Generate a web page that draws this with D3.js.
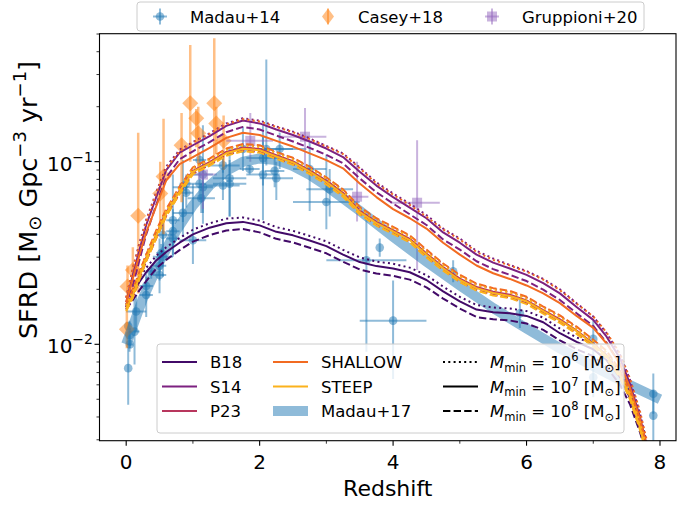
<!DOCTYPE html>
<html><head><meta charset="utf-8">
<script src="https://cdn.jsdelivr.net/npm/d3@7"></script>
<style>body{margin:0;background:#fff} text{font-family:"DejaVu Sans",sans-serif;fill:#000}</style>
</head><body><svg id="c" width="677" height="506"></svg>
<script>
// ---------------- data ----------------
const Z = [0.0,0.1,0.2,0.3,0.45,0.6,0.8,1.0,1.25,1.5,1.75,2.0,2.25,2.5,2.75,3.0,3.25,3.5,3.75,4.0,4.25,4.5,4.75,5.0,5.25,5.5,5.75,6.0,6.25,6.5,6.75,7.0,7.2,7.4,7.55,7.7,7.8];

const B18_6 = [0.0165,0.0198,0.0232,0.0262,0.0305,0.034,0.0382,0.0424,0.046,0.0487,0.0495,0.0475,0.0438,0.0418,0.0392,0.0366,0.0329,0.0299,0.0284,0.0276,0.0263,0.0239,0.0207,0.0182,0.0164,0.0159,0.0157,0.0152,0.014,0.0122,0.0109,0.01,0.0087,0.007,0.0054,0.0037,0.0027];
const B18_7 = [0.016,0.019,0.022,0.0248,0.0288,0.032,0.036,0.040,0.0435,0.046,0.0468,0.0448,0.0413,0.0395,0.037,0.0345,0.031,0.0282,0.0268,0.026,0.0248,0.0225,0.0195,0.0172,0.0155,0.015,0.0148,0.0143,0.0132,0.0115,0.0103,0.0094,0.0082,0.0066,0.0051,0.0035,0.0026];
const B18_8 = [0.0155,0.0175,0.0198,0.0222,0.026,0.029,0.0328,0.0365,0.0396,0.042,0.0428,0.041,0.0378,0.0361,0.0338,0.0315,0.0283,0.0257,0.0244,0.0237,0.0226,0.0205,0.0178,0.0157,0.0141,0.0137,0.0135,0.013,0.012,0.0105,0.0094,0.0086,0.0075,0.006,0.0047,0.0033,0.0025];

const S14_6 = [0.018,0.026,0.036,0.048,0.068,0.094,0.116,0.128,0.143,0.162,0.173,0.168,0.156,0.146,0.134,0.122,0.111,0.093,0.077,0.067,0.059,0.051,0.043,0.038,0.0325,0.0295,0.0272,0.0252,0.0228,0.020,0.0168,0.0142,0.0115,0.0088,0.0064,0.0042,0.0029];
const S14_7 = [0.017,0.024,0.033,0.045,0.064,0.090,0.112,0.123,0.138,0.157,0.168,0.162,0.150,0.140,0.129,0.118,0.106,0.088,0.074,0.064,0.056,0.049,0.041,0.036,0.031,0.028,0.026,0.024,0.0216,0.019,0.016,0.0136,0.011,0.0084,0.0061,0.0040,0.0028];
const S14_8 = [0.016,0.021,0.029,0.040,0.058,0.082,0.103,0.114,0.128,0.145,0.155,0.150,0.139,0.129,0.119,0.109,0.098,0.081,0.068,0.059,0.0515,0.045,0.0375,0.033,0.0285,0.0258,0.024,0.0222,0.0199,0.0175,0.0148,0.0126,0.0102,0.0078,0.0057,0.0038,0.0027];

const P23_6 = [0.0165,0.0195,0.0245,0.031,0.041,0.0545,0.072,0.092,0.103,0.117,0.124,0.121,0.112,0.104,0.093,0.081,0.070,0.0555,0.0485,0.0435,0.039,0.0325,0.0274,0.0237,0.0213,0.0201,0.0193,0.018,0.016,0.0142,0.0124,0.0105,0.009,0.0071,0.0054,0.0037,0.0027];
const P23_7 = [0.016,0.019,0.0238,0.0298,0.0398,0.0528,0.0695,0.089,0.0995,0.113,0.1195,0.1175,0.1085,0.1005,0.0895,0.0788,0.0675,0.054,0.0468,0.0422,0.0378,0.0314,0.0265,0.0229,0.0206,0.0194,0.0187,0.0174,0.0154,0.0137,0.0119,0.0101,0.0087,0.0068,0.0052,0.0036,0.0026];
const P23_8 = [0.0155,0.018,0.0228,0.0285,0.038,0.0505,0.067,0.086,0.096,0.109,0.115,0.113,0.1045,0.097,0.0865,0.076,0.065,0.052,0.045,0.0406,0.0365,0.0302,0.0255,0.022,0.0199,0.0187,0.018,0.0168,0.0149,0.0132,0.0115,0.0098,0.0084,0.0066,0.0051,0.0035,0.0025];

const SHALLOW_6 = [0.018,0.026,0.035,0.047,0.067,0.092,0.114,0.127,0.142,0.160,0.171,0.166,0.155,0.145,0.133,0.121,0.110,0.092,0.076,0.066,0.058,0.050,0.0425,0.0375,0.032,0.029,0.027,0.025,0.0226,0.0198,0.0167,0.0142,0.0116,0.0089,0.0065,0.0043,0.003];
const SHALLOW_7 = [0.017,0.023,0.031,0.041,0.057,0.079,0.097,0.106,0.119,0.135,0.144,0.140,0.130,0.121,0.111,0.102,0.092,0.076,0.064,0.055,0.049,0.043,0.036,0.031,0.027,0.0245,0.0228,0.021,0.019,0.0168,0.0143,0.0123,0.0101,0.0078,0.0058,0.0039,0.0028];
const SHALLOW_8 = [0.0165,0.020,0.025,0.031,0.042,0.055,0.073,0.093,0.104,0.118,0.125,0.123,0.113,0.105,0.094,0.082,0.0705,0.0565,0.049,0.044,0.0395,0.033,0.0277,0.024,0.0215,0.0203,0.0196,0.0182,0.0161,0.0144,0.0125,0.0106,0.0092,0.0072,0.0055,0.0037,0.0027];

const STEEP_6 = [0.0163,0.0194,0.0245,0.0306,0.0408,0.054,0.0714,0.0918,0.102,0.1158,0.1224,0.1204,0.1112,0.103,0.0918,0.0806,0.069,0.0551,0.048,0.0431,0.0388,0.0321,0.0271,0.0235,0.0211,0.0199,0.0192,0.0178,0.0158,0.0141,0.0122,0.0104,0.009,0.007,0.0054,0.0037,0.0027];
const STEEP_7 = [0.0157,0.0186,0.0235,0.0294,0.0392,0.052,0.0686,0.0882,0.098,0.1112,0.1176,0.1156,0.1068,0.099,0.0882,0.0774,0.0663,0.0529,0.0461,0.0415,0.0372,0.0309,0.0261,0.0225,0.0203,0.0191,0.0184,0.0172,0.0152,0.0135,0.0118,0.01,0.0086,0.0068,0.0052,0.0035,0.0025];
const STEEP_8 = [0.0152,0.018,0.0228,0.0285,0.038,0.0504,0.0665,0.0855,0.095,0.1078,0.114,0.1121,0.1036,0.096,0.0855,0.075,0.0643,0.0513,0.0447,0.0402,0.0361,0.0299,0.0253,0.0219,0.0197,0.0185,0.0179,0.0166,0.0147,0.0131,0.0114,0.0097,0.0084,0.0066,0.005,0.0034,0.0025];

const MODEL_NAMES = ["B18","S14","P23","SHALLOW","STEEP"];
const MODEL_COLORS = ["#420a68","#7d2180","#b8365d","#f26b21","#fbb21c"];
const MODEL_SERIES = [[B18_6,B18_7,B18_8],[S14_6,S14_7,S14_8],[P23_6,P23_7,P23_8],[SHALLOW_6,SHALLOW_7,SHALLOW_8],[STEEP_6,STEEP_7,STEEP_8]];
const MMIN_EXP = ["6","7","8"];
const MMIN_DASH = ["2,3.3", null, "7.4,3.2"];

// Madau+17 fit, read along the band
const MD17_Z   = [0,0.25,0.5,0.75,1.0,1.25,1.5,1.75,2.0,2.25,2.5,2.75,3.0,3.5,4.0,4.5,5.0,5.5,6.0,6.5,7.0,7.5,8.0];
const MD17_VAL = [0.0100,0.0178,0.0284,0.0419,0.0575,0.0740,0.0890,0.0998,0.1042,0.1020,0.0947,0.0846,0.0737,0.0538,0.0388,0.0283,0.0210,0.0158,0.0122,0.0095,0.0076,0.0061,0.0050];

// Madau+14 compilation (log SFRD, Salpeter) and conversion to Kroupa
const MD14_ZLO = [0.01,0.2,0.4,0.6,0.8,0.05,0.05,0.2,0.4,0.6,0.8,1.0,1.2,1.7,2.5,3.5,0.92,1.62,2.08,1.9,2.7,3.8,4.9,5.9,7.0,7.9,7.0,7.9,0.03,0.03,0.4,0.7,1.0,1.3,1.8,0.4,0.7,1.0,1.3,1.8,0.0,0.3,0.45,0.6,0.8,1.0,1.2,1.7,2.0,2.5,3.0];
const MD14_ZHI = [0.1,0.4,0.6,0.8,1.2,0.05,0.2,0.4,0.6,0.8,1.0,1.2,1.7,2.5,3.5,4.5,1.33,1.88,2.37,2.7,3.4,3.8,4.9,5.9,7.0,7.9,7.0,7.9,0.03,0.03,0.7,1.0,1.3,1.8,2.3,0.7,1.0,1.3,1.8,2.3,0.3,0.45,0.6,0.8,1.0,1.2,1.7,2.0,2.5,3.0,4.2];
const MD14_LOG = [-1.82,-1.50,-1.39,-1.20,-1.25,-1.77,-1.75,-1.55,-1.44,-1.24,-0.99,-0.94,-0.95,-0.75,-1.04,-1.69,-1.02,-0.75,-0.87,-0.75,-0.97,-1.29,-1.42,-1.65,-1.79,-2.09,-2.00,-2.21,-1.72,-1.95,-1.34,-0.96,-0.89,-0.91,-0.89,-1.22,-1.10,-0.96,-0.94,-0.80,-1.64,-1.42,-1.32,-1.14,-0.94,-0.81,-0.84,-0.86,-0.91,-0.86,-1.36];
const MD14_EUP = [0.09,0.05,0.15,0.31,0.31,0.08,0.18,0.12,0.10,0.10,0.09,0.09,0.15,0.49,0.26,0.22,0.08,0.12,0.09,0.09,0.11,0.05,0.06,0.08,0.10,0.11,0.10,0.14,0.02,0.20,0.22,0.15,0.27,0.17,0.21,0.08,0.10,0.13,0.13,0.18,0.09,0.03,0.05,0.06,0.05,0.04,0.04,0.02,0.09,0.15,0.23];
const MD14_EDN = [0.02,0.05,0.08,0.13,0.13,0.09,0.18,0.12,0.10,0.10,0.08,0.09,0.08,0.09,0.15,0.32,0.08,0.12,0.09,0.11,0.15,0.05,0.06,0.08,0.10,0.11,0.11,0.14,0.03,0.20,0.11,0.19,0.21,0.21,0.25,0.11,0.13,0.20,0.18,0.15,0.11,0.04,0.05,0.06,0.06,0.05,0.04,0.03,0.12,0.23,0.50];
const IMF_FACTOR = 0.66;

// Casey+18
const C18_Z   = [0.01,0.02,0.10,0.18,0.51,0.56,0.83,0.96,1.05,1.08,1.32,1.35,1.46];
const C18_VAL = [0.0121,0.0207,0.0255,0.0505,0.067,0.083,0.123,0.209,0.173,0.143,0.209,0.162,0.13];
const C18_LO  = [0.0095,0.016,0.019,0.019,0.045,0.04,0.06,0.10,0.12,0.09,0.10,0.11,0.09];
const C18_HI  = [0.0165,0.027,0.034,0.144,0.10,0.172,0.185,0.435,0.194,0.20,0.474,0.20,0.179];

// Gruppioni+20
const G20_Z   = [1.15,1.86,2.68,3.46,4.36];
const G20_ZLO = [0.96,1.5,2.3,3.25,3.96];
const G20_ZHI = [1.36,2.2,3.0,3.63,4.7];
const G20_VAL = [0.085,0.13,0.137,0.0643,0.0596];
const G20_LO  = [0.055,0.10,0.09,0.047,0.0255];
const G20_HI  = [0.10,0.185,0.197,0.10,0.131];

const X_TICKS = [0,2,4,6,8];
const X_MINOR = [1,3,5,7];
const Y_TICKS = [0.01,0.1];
const Y_TICK_EXP = ["−2","−1"];
const Y_MINOR = [0.003,0.004,0.005,0.006,0.007,0.008,0.009,0.02,0.03,0.04,0.05,0.06,0.07,0.08,0.09,0.2,0.3,0.4,0.5];

// ---------------- drawing ----------------
const svg = d3.select("#c");
const L=99.5, R=676, T=33.7, B=440.7;
const x = d3.scaleLinear().domain([-0.40, 8.24]).range([L, R]);
const y = d3.scaleLog().domain([0.002966, 0.502]).range([B, T]);

svg.append("defs").append("clipPath").attr("id","clip")
  .append("rect").attr("x",L).attr("y",T).attr("width",R-L).attr("height",B-T);
const plot = svg.append("g").attr("clip-path","url(#clip)");

// Madau+14
const C0="#1f77b4", C1="#ff7f0e", C4="#9467bd";
const md = MD14_LOG.map((v,i)=>({
  zlo:MD14_ZLO[i], zhi:MD14_ZHI[i], z:(MD14_ZLO[i]+MD14_ZHI[i])/2,
  v:Math.pow(10,v)*IMF_FACTOR, hi:Math.pow(10,v+MD14_EUP[i])*IMF_FACTOR, lo:Math.pow(10,v-MD14_EDN[i])*IMF_FACTOR}));
const gMd = plot.append("g");
md.forEach(d=>{
  gMd.append("line").attr("x1",x(d.z)).attr("x2",x(d.z)).attr("y1",y(d.lo)).attr("y2",y(d.hi))
    .attr("stroke",C0).attr("stroke-width",2).attr("stroke-opacity",0.5);
  if (d.zhi>d.zlo) gMd.append("line").attr("x1",x(d.zlo)).attr("x2",x(d.zhi)).attr("y1",y(d.v)).attr("y2",y(d.v))
    .attr("stroke",C0).attr("stroke-width",2).attr("stroke-opacity",0.5);
  gMd.append("circle").attr("cx",x(d.z)).attr("cy",y(d.v)).attr("r",4.3).attr("fill",C0).attr("fill-opacity",0.5);
});

// Casey+18
const gC = plot.append("g");
C18_Z.forEach((z,i)=>{
  gC.append("line").attr("x1",x(z)).attr("x2",x(z)).attr("y1",y(C18_LO[i])).attr("y2",y(C18_HI[i]))
    .attr("stroke",C1).attr("stroke-width",2.5).attr("stroke-opacity",0.5);
  const cx=x(z), cy=y(C18_VAL[i]), h=8;
  gC.append("path").attr("d",`M${cx},${cy-h}L${cx+h},${cy}L${cx},${cy+h}L${cx-h},${cy}Z`).attr("fill",C1).attr("fill-opacity",0.5);
});

// Gruppioni+20
const gG = plot.append("g");
G20_Z.forEach((z,i)=>{
  gG.append("line").attr("x1",x(z)).attr("x2",x(z)).attr("y1",y(G20_LO[i])).attr("y2",y(G20_HI[i]))
    .attr("stroke",C4).attr("stroke-width",2).attr("stroke-opacity",0.5);
  gG.append("line").attr("x1",x(G20_ZLO[i])).attr("x2",x(G20_ZHI[i])).attr("y1",y(G20_VAL[i])).attr("y2",y(G20_VAL[i]))
    .attr("stroke",C4).attr("stroke-width",2).attr("stroke-opacity",0.5);
  gG.append("rect").attr("x",x(z)-5).attr("y",y(G20_VAL[i])-5).attr("width",10).attr("height",10)
    .attr("fill",C4).attr("fill-opacity",0.5);
});

// Madau+17 band
const lineMd17 = d3.line().x((d,i)=>x(MD17_Z[i])).y(d=>y(d));
plot.append("path").attr("d",lineMd17(MD17_VAL)).attr("fill","none").attr("stroke",C0)
  .attr("stroke-width",10).attr("stroke-opacity",0.5);

// model lines
const lineM = d3.line().x((d,i)=>x(Z[i])).y(d=>y(d));
MODEL_SERIES.forEach((set,mi)=>{
  set.forEach((vals,k)=>{
    const p = plot.append("path").attr("d",lineM(vals)).attr("fill","none")
      .attr("stroke",MODEL_COLORS[mi]).attr("stroke-width",2).attr("stroke-linejoin","round");
    if (MMIN_DASH[k]) p.attr("stroke-dasharray",MMIN_DASH[k]);
  });
});

// axes
const ax = svg.append("g");
ax.append("rect").attr("x",L).attr("y",T).attr("width",R-L).attr("height",B-T)
  .attr("fill","none").attr("stroke","#000").attr("stroke-width",1.1);
X_TICKS.forEach(t=>{
  ax.append("line").attr("x1",x(t)).attr("x2",x(t)).attr("y1",B).attr("y2",B+5).attr("stroke","#000").attr("stroke-width",1.1);
  ax.append("text").attr("x",x(t)).attr("y",469).attr("text-anchor","middle").attr("font-size",20).text(t);
});
X_MINOR.forEach(t=>{
  ax.append("line").attr("x1",x(t)).attr("x2",x(t)).attr("y1",B).attr("y2",B+3).attr("stroke","#000").attr("stroke-width",0.8);
});
Y_TICKS.forEach((t,i)=>{
  ax.append("line").attr("x1",L-5).attr("x2",L).attr("y1",y(t)).attr("y2",y(t)).attr("stroke","#000").attr("stroke-width",1.1);
  const tx = ax.append("text").attr("x",93).attr("y",y(t)+9).attr("text-anchor","end").attr("font-size",20);
  tx.append("tspan").text("10");
  tx.append("tspan").attr("font-size",14).attr("dy",-9).text(Y_TICK_EXP[i]);
});
Y_MINOR.forEach(t=>{
  ax.append("line").attr("x1",L-3).attr("x2",L).attr("y1",y(t)).attr("y2",y(t)).attr("stroke","#000").attr("stroke-width",0.8);
});
ax.append("text").attr("x",(L+R)/2).attr("y",496).attr("text-anchor","middle").attr("font-size",22).text("Redshift");

const yl = ax.append("text").attr("transform","translate(37,200) rotate(-90)").attr("text-anchor","middle").attr("font-size",25.5);
yl.append("tspan").text("SFRD [M");
yl.append("tspan").attr("font-size",18).attr("dy",4).text("⊙");
yl.append("tspan").attr("dy",-4).text(" Gpc");
yl.append("tspan").attr("font-size",18).attr("dy",-11).text("−3");
yl.append("tspan").attr("dy",11).text(" yr");
yl.append("tspan").attr("font-size",18).attr("dy",-11).text("−1");
yl.append("tspan").attr("dy",11).text("]");

// top legend
const lg = svg.append("g");
lg.append("rect").attr("x",137).attr("y",2).attr("width",507).attr("height",29).attr("rx",3)
  .attr("fill","#fff").attr("fill-opacity",0.8).attr("stroke","#cccccc").attr("stroke-width",1);
const LEG_TOP = ["Madau+14","Casey+18","Gruppioni+20"];
const legX = [160,328,492];
LEG_TOP.forEach((name,i)=>{
  const cx=legX[i], cy=16.5;
  const col=[C0,C1,C4][i];
  lg.append("line").attr("x1",cx).attr("x2",cx).attr("y1",cy-8).attr("y2",cy+8).attr("stroke",col).attr("stroke-width",2).attr("stroke-opacity",0.5);
  if (i!==1) lg.append("line").attr("x1",cx-7).attr("x2",cx+7).attr("y1",cy).attr("y2",cy).attr("stroke",col).attr("stroke-width",2).attr("stroke-opacity",0.5);
  if (i===0) lg.append("circle").attr("cx",cx).attr("cy",cy).attr("r",4.3).attr("fill",col).attr("fill-opacity",0.5);
  if (i===1) lg.append("path").attr("d",`M${cx},${cy-8}L${cx+6},${cy}L${cx},${cy+8}L${cx-6},${cy}Z`).attr("fill",col).attr("fill-opacity",0.5);
  if (i===2) lg.append("rect").attr("x",cx-5).attr("y",cy-5).attr("width",10).attr("height",10).attr("fill",col).attr("fill-opacity",0.5);
  lg.append("text").attr("x",cx+30).attr("y",cy+6).attr("font-size",16.5).text(name);
});

// inner legend
const lg2 = svg.append("g");
lg2.append("rect").attr("x",157).attr("y",344).attr("width",467).attr("height",89).attr("rx",3)
  .attr("fill","#fff").attr("fill-opacity",0.8).attr("stroke","#cccccc").attr("stroke-width",1);
const rowY = [362,386.5,411];
const entries = MODEL_NAMES.map((n,i)=>({name:n,color:MODEL_COLORS[i],w:2})).concat([{name:"Madau+17",color:C0,w:10,op:0.5}]);
entries.forEach((e,i)=>{
  const col=Math.floor(i/3), row=i%3;
  const x0=[162,273][col];
  lg2.append("line").attr("x1",x0).attr("x2",x0+35).attr("y1",rowY[row]).attr("y2",rowY[row])
    .attr("stroke",e.color).attr("stroke-width",e.w).attr("stroke-opacity",e.op||1);
  lg2.append("text").attr("x",x0+48).attr("y",rowY[row]+6).attr("font-size",16.5).text(e.name);
});
MMIN_EXP.forEach((ex,k)=>{
  const yy=rowY[k];
  const l=lg2.append("line").attr("x1",443).attr("x2",478).attr("y1",yy).attr("y2",yy).attr("stroke","#000").attr("stroke-width",2);
  if (MMIN_DASH[k]) l.attr("stroke-dasharray",MMIN_DASH[k]);
  const t=lg2.append("text").attr("x",490).attr("y",yy+6).attr("font-size",16.5);
  t.append("tspan").attr("font-style","italic").text("M");
  t.append("tspan").attr("font-size",11.5).attr("dy",3.5).text("min");
  t.append("tspan").attr("dy",-3.5).text(" = 10");
  t.append("tspan").attr("font-size",11.5).attr("dy",-7).text(ex);
  t.append("tspan").attr("dy",7).text(" [M");
  t.append("tspan").attr("font-size",11.5).attr("dy",3.5).text("⊙");
  t.append("tspan").attr("dy",-3.5).text("]");
});
</script></body></html>
